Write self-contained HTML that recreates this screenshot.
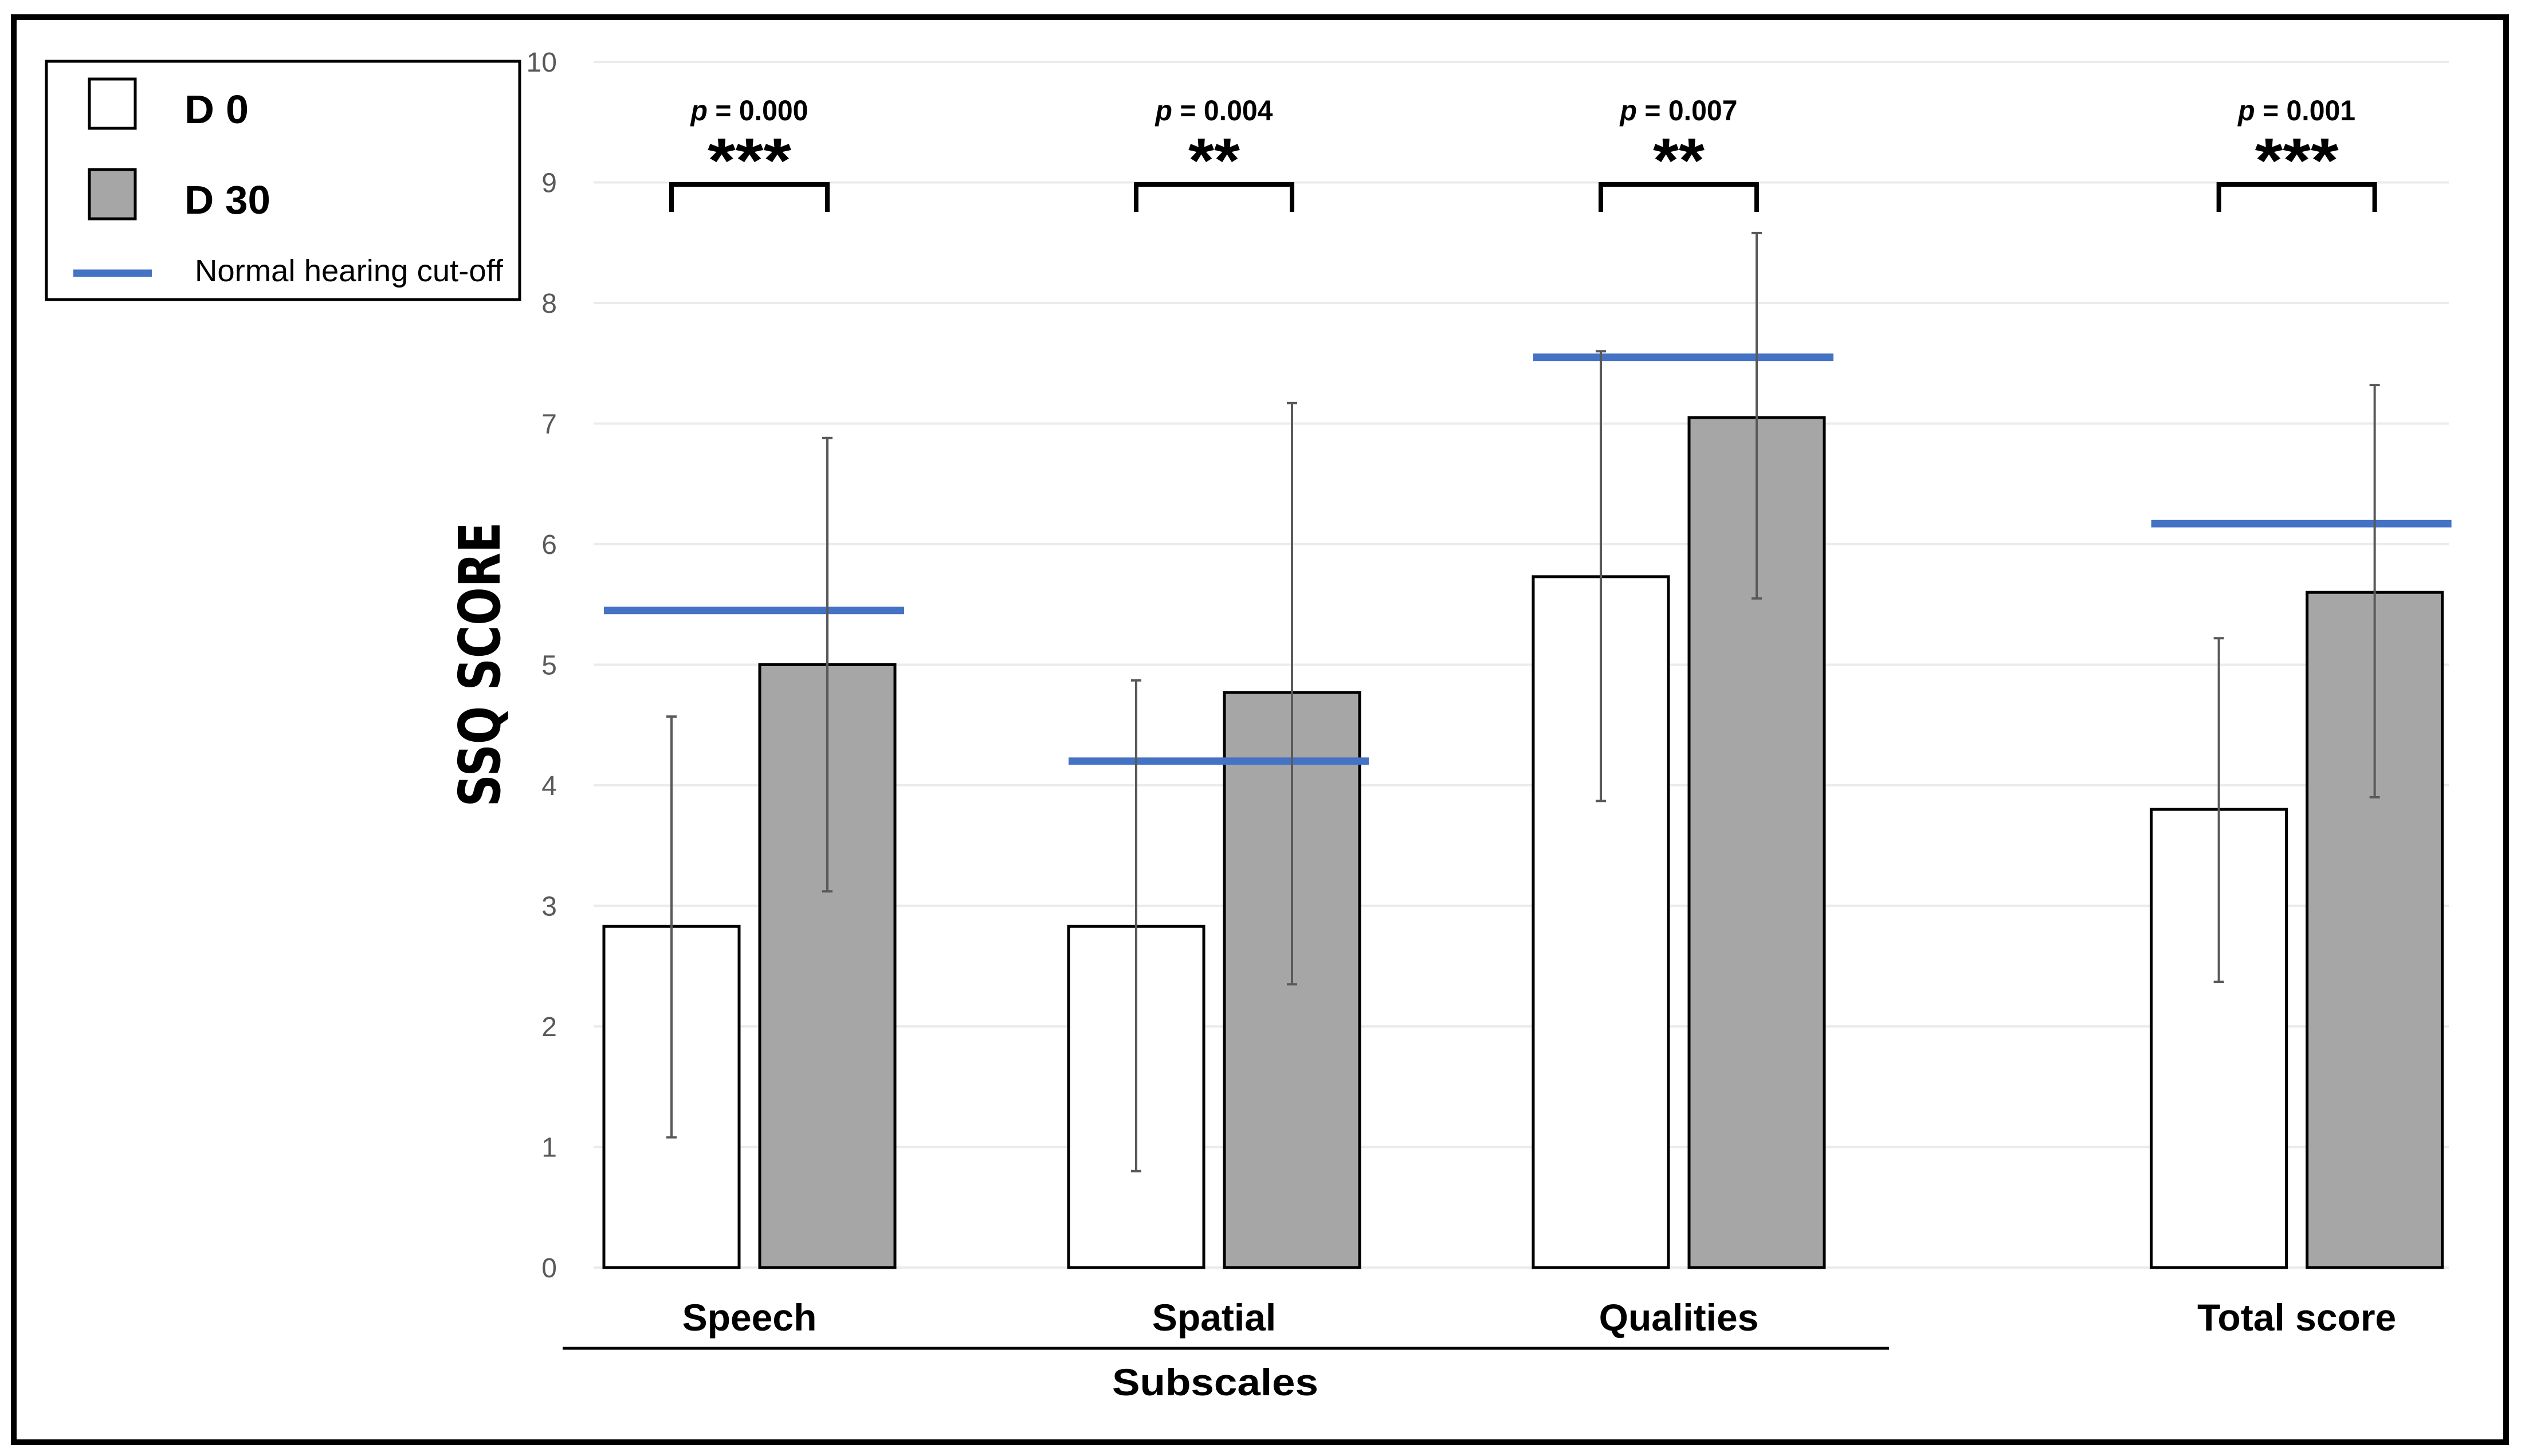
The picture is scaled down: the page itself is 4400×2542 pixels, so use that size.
<!DOCTYPE html>
<html><head><meta charset="utf-8"><style>
html,body{margin:0;padding:0;background:#fff;}
svg{display:block;font-family:"Liberation Sans",Arial,sans-serif;}
</style></head><body>
<svg id="chart" width="4400" height="2542" viewBox="0 0 4400 2542" xmlns="http://www.w3.org/2000/svg">
<rect x="0" y="0" width="4400" height="2542" fill="#fff"/>
<rect x="24" y="30" width="4350" height="2488" fill="none" stroke="#000" stroke-width="10"/>
<g id="grid"></g>
<g id="yticks"></g>
<g id="bars"></g>
<g id="cutoffs"></g>
<g id="errs"></g>
<g id="sig"></g>
<g id="cats"></g>
<line x1="982" y1="2354" x2="3297" y2="2354" stroke="#000" stroke-width="5"/>
<text x="2121" y="2436" text-anchor="middle" font-size="66" font-weight="bold" textLength="360" lengthAdjust="spacingAndGlyphs">Subscales</text>
<text transform="translate(872,1160) rotate(-90)" text-anchor="middle" font-size="100" font-weight="bold" font-family="'DejaVu Sans',sans-serif" textLength="497" lengthAdjust="spacingAndGlyphs">SSQ SCORE</text>
<g>
<rect x="81" y="107" width="826" height="416" fill="#fff" stroke="#000" stroke-width="5"/>
<rect x="156" y="138" width="80" height="86" fill="#fff" stroke="#000" stroke-width="5"/>
<text x="322" y="215" font-size="70" font-weight="bold" textLength="112" lengthAdjust="spacingAndGlyphs">D 0</text>
<rect x="156" y="296" width="80" height="86" fill="#a6a6a6" stroke="#000" stroke-width="5"/>
<text x="322" y="373" font-size="70" font-weight="bold" textLength="150" lengthAdjust="spacingAndGlyphs">D 30</text>
<line x1="128" y1="477" x2="265" y2="477" stroke="#4472c4" stroke-width="13"/>
<text x="340" y="491" font-size="54" textLength="538" lengthAdjust="spacingAndGlyphs">Normal hearing cut-off</text>
</g>
</svg>
<script>
const categories = ["Speech","Spatial","Qualities","Total score"];
const categorySlots = [0, 1, 2, 3.33];
const d0Values = [2.83, 2.83, 5.73, 3.80];
const d30Values = [5.00, 4.77, 7.05, 5.60];
const d0ErrLow = [1.08, 0.80, 3.87, 2.37];
const d0ErrHigh = [4.57, 4.87, 7.60, 5.22];
const d30ErrLow = [3.12, 2.35, 5.55, 3.90];
const d30ErrHigh = [6.88, 7.17, 8.58, 7.32];
const cutoffValues = [5.45, 4.20, 7.55, 6.17];
const pLabels = ["p = 0.000","p = 0.004","p = 0.007","p = 0.001"];
const starLabels = ["***","**","**","***"];
const yTicks = [0,1,2,3,4,5,6,7,8,9,10];

const NS = "http://www.w3.org/2000/svg";
const y = v => 2213 - v * 210.5;
const xc = s => 1308 + s * 811;
const BW = 236, OFF = 136;
function mk(parent, tag, attrs, text) {
  const e = document.createElementNS(NS, tag);
  for (const k in attrs) e.setAttribute(k, attrs[k]);
  if (text !== undefined) e.textContent = text;
  document.getElementById(parent).appendChild(e);
  return e;
}
yTicks.forEach(t => {
  const g = mk("grid", "line", {x1:1036, x2:4274, y1:y(t), y2:y(t), stroke:"#ebebeb", "stroke-width":4});
  
  
  const l = mk("yticks", "text", {x:972, y:y(t)+17, "text-anchor":"end", "font-size":48, fill:"#595959"}, String(t));
  
  
});
categories.forEach((c, i) => {
  const cx = xc(categorySlots[i]);
  const x0 = cx - OFF, x1 = cx + OFF;
  const b0 = mk("bars", "rect", {x:x0-BW/2, y:y(d0Values[i]), width:BW, height:y(0)-y(d0Values[i]), fill:"#fff", stroke:"#000", "stroke-width":5});
  
  
  const b1 = mk("bars", "rect", {x:x1-BW/2, y:y(d30Values[i]), width:BW, height:y(0)-y(d30Values[i]), fill:"#a6a6a6", stroke:"#000", "stroke-width":5});
  
  
  [[x0, d0ErrLow[i], d0ErrHigh[i], 'd0'], [x1, d30ErrLow[i], d30ErrHigh[i], 'd30']].forEach(([ex, lo, hi, s]) => {
    const p = mk("errs", "path", {d:`M${ex},${y(lo)}V${y(hi)}M${ex-9},${y(lo)}H${ex+9}M${ex-9},${y(hi)}H${ex+9}`, stroke:"#595959", "stroke-width":4, fill:"none"});
    
    
  });
  const cl = mk("cutoffs", "line", {x1:cx-OFF-BW/2, x2:cx+OFF+BW/2+16, y1:y(cutoffValues[i]), y2:y(cutoffValues[i]), stroke:"#4472c4", "stroke-width":13});
  
  
  const br = mk("sig", "path", {d:`M${x0},370V322H${x1}V370`, stroke:"#000", "stroke-width":8, fill:"none"});
  
  
  const pt = mk("sig", "text", {x:cx, y:210, "text-anchor":"middle", "font-size":50, "font-weight":"bold", textLength:205, lengthAdjust:"spacingAndGlyphs"});
  const it = document.createElementNS(NS, "tspan"); it.setAttribute("font-style", "italic"); it.textContent = pLabels[i].slice(0,1);
  pt.appendChild(it); pt.appendChild(document.createTextNode(pLabels[i].slice(1)));
  
  
  const st = mk("sig", "text", {x:cx, y:318, "text-anchor":"middle", "font-size":110, "font-weight":"bold", textLength:(starLabels[i].length === 3 ? 146 : 90), lengthAdjust:"spacingAndGlyphs"}, starLabels[i]);
  
  
  const cl2 = mk("cats", "text", {x:cx, y:2323, "text-anchor":"middle", "font-size":66, "font-weight":"bold"}, c);
  
  
});
</script>
</body></html>
